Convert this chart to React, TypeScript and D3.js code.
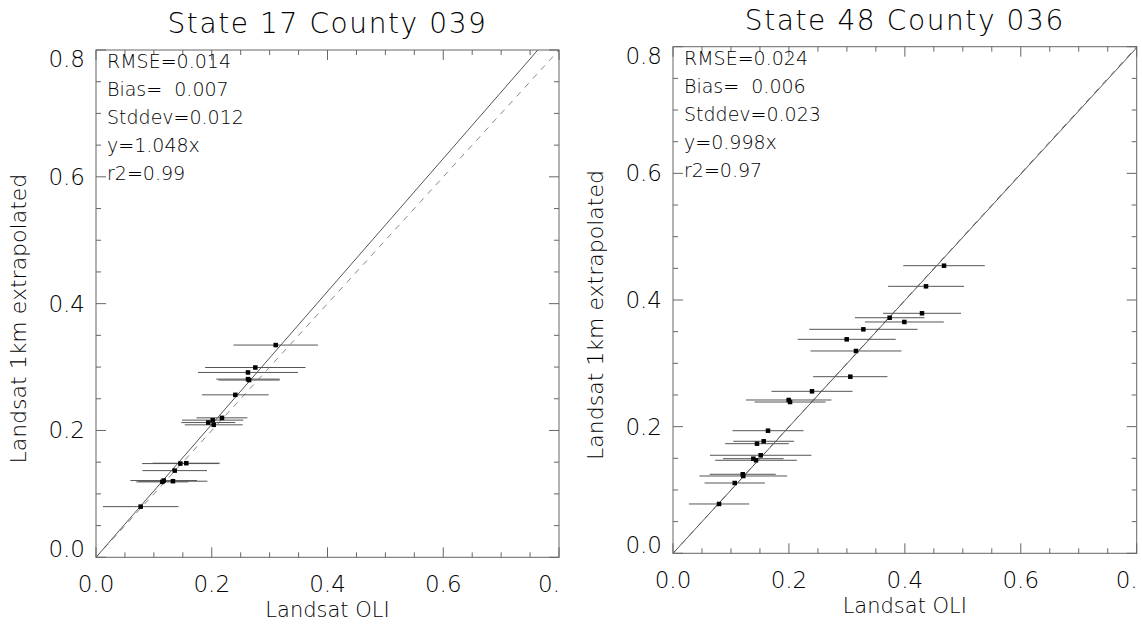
import React from "react";
import * as d3 from "d3";

// Axis ticks and labels shared by both panels
const majorTicks = [0, 0.2, 0.4, 0.6, 0.8];
const minorTicks = d3.range(0, 0.8001, 0.05);
const xTickLabels = ["0.0", "0.2", "0.4", "0.6", "0."];
const yTickLabels = ["0.0", "0.2", "0.4", "0.6", "0.8"];

// State 17 County 039
const oliA = [0.3105, 0.2753, 0.2626, 0.2626, 0.2645, 0.2407, 0.2177, 0.2016, 0.194, 0.2034, 0.1457, 0.156, 0.136, 0.117, 0.1146, 0.133, 0.0772];
const extA = [0.3347, 0.2993, 0.2915, 0.281, 0.2795, 0.2562, 0.2199, 0.2163, 0.2125, 0.2089, 0.1478, 0.1484, 0.1367, 0.121, 0.1189, 0.12, 0.0799];
const errA = [0.073, 0.0867, 0.0864, 0.0548, 0.053, 0.0576, 0.044, 0.053, 0.0467, 0.05, 0.066, 0.058, 0.0558, 0.0576, 0.045, 0.0595, 0.0653];
const statsA = ["RMSE=0.014", "Bias=  0.007", "Stddev=0.012", "y=1.048x", "r2=0.99"];
const slopeA = 1.048;

// State 48 County 036
const oliB = [0.4676, 0.4365, 0.4296, 0.3738, 0.3991, 0.3284, 0.2997, 0.3157, 0.3059, 0.2398, 0.1996, 0.2019, 0.1639, 0.1565, 0.1449, 0.1513, 0.1386, 0.1432, 0.1203, 0.1213, 0.1065, 0.0794];
const extB = [0.4542, 0.4216, 0.379, 0.372, 0.3653, 0.3537, 0.3379, 0.3195, 0.2789, 0.2558, 0.2421, 0.2389, 0.1936, 0.1769, 0.1731, 0.1548, 0.1494, 0.1469, 0.1248, 0.1221, 0.111, 0.0779];
const errB = [0.0703, 0.0655, 0.0673, 0.06, 0.0681, 0.0935, 0.0846, 0.0785, 0.0641, 0.0699, 0.0737, 0.0613, 0.0613, 0.0526, 0.0549, 0.0875, 0.0523, 0.0705, 0.057, 0.0757, 0.052, 0.052];
const statsB = ["RMSE=0.024", "Bias=  0.006", "Stddev=0.023", "y=0.998x", "r2=0.97"];
const slopeB = 0.998;

const FONT = "'DejaVu Sans', sans-serif";
const AXIS = "#666";
const WEIGHT = 300;

type PanelProps = {
  title: string;
  oli: number[];
  ext: number[];
  err: number[];
  stats: string[];
  slope: number;
  box: { left: number; right: number; top: number; bottom: number };
  id: string;
};

function Panel({ title, oli, ext, err, stats, slope, box, id }: PanelProps) {
  const x = d3.scaleLinear().domain([0, 0.8]).range([box.left, box.right]);
  const y = d3.scaleLinear().domain([0, 0.8]).range([box.bottom, box.top]);
  const cx = (box.left + box.right) / 2;
  const cy = (box.top + box.bottom) / 2;

  const fitLine = d3.line<number>().x((v) => x(v)).y((v) => y(v * slope));
  const idLine = d3.line<number>().x((v) => x(v)).y((v) => y(v));

  return (
    <g fontFamily={FONT} fill="#000">
      <defs>
        <clipPath id={id}>
          <rect x={box.left} y={box.top} width={box.right - box.left} height={box.bottom - box.top} />
        </clipPath>
      </defs>
      <text x={cx} y={box.top - 17} textAnchor="middle" fontSize={28} letterSpacing={1.6} fontWeight={WEIGHT}>
        {title}
      </text>

      {/* one-to-one and regression lines */}
      <g clipPath={`url(#${id})`} fill="none">
        <path d={idLine([0, 0.8]) || ""} stroke="#888" strokeWidth={1} strokeDasharray="6,6" />
        <path d={fitLine([0, 0.8]) || ""} stroke="#555" strokeWidth={1} />
      </g>

      {/* horizontal error bars and points */}
      <g>
        {oli.map((v, i) => (
          <line key={"e" + i} x1={x(v - err[i])} x2={x(v + err[i])} y1={y(ext[i])} y2={y(ext[i])} stroke="#555" strokeWidth={1} />
        ))}
        {oli.map((v, i) => (
          <rect key={"p" + i} x={x(v) - 2.25} y={y(ext[i]) - 2.25} width={4.5} height={4.5} fill="#000" />
        ))}
      </g>

      {/* frame and ticks */}
      <rect x={box.left} y={box.top} width={box.right - box.left} height={box.bottom - box.top} fill="none" stroke={AXIS} strokeWidth={1} />
      {minorTicks.map((t, i) => {
        const len = i % 4 === 0 ? 10 : 5;
        return (
          <g key={"t" + i} stroke={AXIS} strokeWidth={1}>
            <line x1={x(t)} x2={x(t)} y1={box.bottom} y2={box.bottom - len} />
            <line x1={x(t)} x2={x(t)} y1={box.top} y2={box.top + len} />
            <line x1={box.left} x2={box.left + len} y1={y(t)} y2={y(t)} />
            <line x1={box.right} x2={box.right - len} y1={y(t)} y2={y(t)} />
          </g>
        );
      })}

      {/* tick labels */}
      {majorTicks.map((t, i) => (
        <text
          key={"xl" + i}
          x={i === majorTicks.length - 1 ? x(t) + 1 : x(t)}
          y={box.bottom + 35}
          textAnchor={i === majorTicks.length - 1 ? "end" : "middle"}
          fontSize={23}
          fontWeight={WEIGHT}
        >
          {xTickLabels[i]}
        </text>
      ))}
      {majorTicks.map((t, i) => {
        const off = i === 0 ? 0 : i === majorTicks.length - 1 ? 17 : 8;
        return (
          <text key={"yl" + i} x={box.left - 11} y={y(t) + off} textAnchor="end" fontSize={23} fontWeight={WEIGHT}>
            {yTickLabels[i]}
          </text>
        );
      })}

      {/* statistics */}
      {stats.map((s, i) => (
        <text key={"s" + i} x={box.left + 11} y={box.top + 18 + i * 28} fontSize={19} fontWeight={WEIGHT} style={{ whiteSpace: "pre" }}>
          {s}
        </text>
      ))}

      {/* axis titles */}
      <text x={cx} y={box.bottom + 60} textAnchor="middle" fontSize={21} fontWeight={WEIGHT}>
        Landsat OLI
      </text>
      <text
        transform={`translate(${box.left - 70},${cy + 15}) rotate(-90)`}
        textAnchor="middle"
        fontSize={22}
        fontWeight={WEIGHT}
      >
        Landsat 1km extrapolated
      </text>
    </g>
  );
}

export default function App() {
  return (
    <svg
      width={1142}
      height={633}
      viewBox="0 0 1142 633"
      style={{ position: "absolute", left: 0, top: 0, background: "#fff" }}
    >
      <rect x={0} y={0} width={1142} height={633} fill="#fff" />
      <Panel
        id="clipA"
        title="State 17 County 039"
        oli={oliA}
        ext={extA}
        err={errA}
        stats={statsA}
        slope={slopeA}
        box={{ left: 96, right: 559, top: 50, bottom: 557.3 }}
      />
      <Panel
        id="clipB"
        title="State 48 County 036"
        oli={oliB}
        ext={extB}
        err={errB}
        stats={statsB}
        slope={slopeB}
        box={{ left: 673, right: 1136.7, top: 46.7, bottom: 553.3 }}
      />
    </svg>
  );
}
